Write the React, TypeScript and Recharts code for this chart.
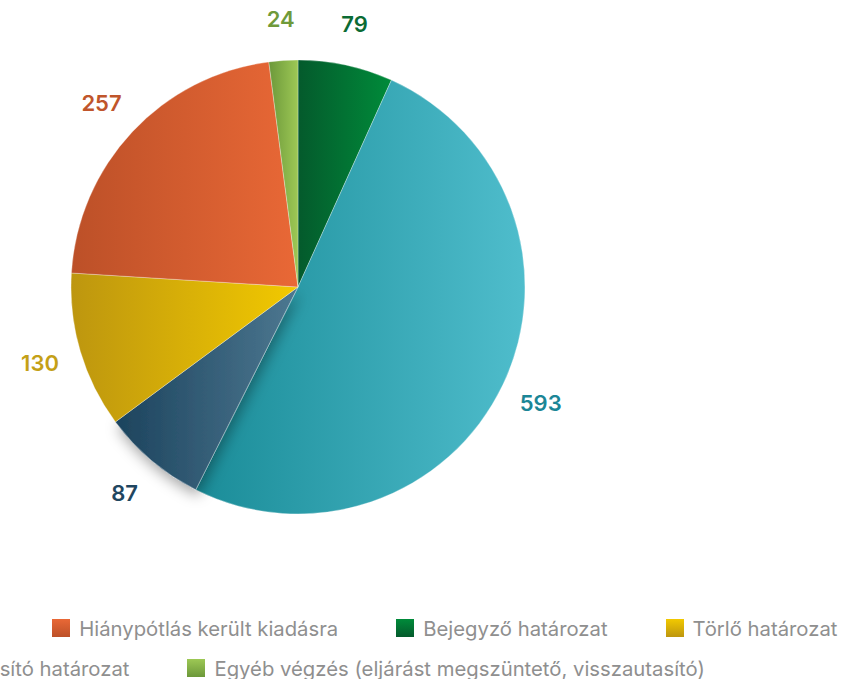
import { PieChart, Pie, Cell, Legend } from 'recharts'

// pie order (clockwise from 12 o'clock)
const categories = [
  'Bejegyző határozat',
  'Változásbejegyző határozat',
  'Kérelmet elutasító határozat',
  'Törlő határozat',
  'Hiánypótlás került kiadásra',
  'Egyéb végzés (eljárást megszüntető, visszautasító)',
]
const values = [79, 593, 87, 130, 257, 24]

// legend order
const legendOrder = [
  'Változásbejegyző határozat',
  'Hiánypótlás került kiadásra',
  'Bejegyző határozat',
  'Törlő határozat',
  'Kérelmet elutasító határozat',
  'Egyéb végzés (eljárást megszüntető, visszautasító)',
]

const gradientStops: [string, string][] = [
  ['#045a2c', '#008b3a'],
  ['#1a8c98', '#4fbdcc'],
  ['#1c435d', '#4d7891'],
  ['#bd960f', '#f2c900'],
  ['#bc5028', '#e96836'],
  ['#6c983a', '#9dc855'],
]
const labelColors = ['#0b6b34', '#1b8696', '#1f4660', '#c4a017', '#c0552b', '#6f9a3a']
const shadowed = 'Kérelmet elutasító határozat'

const data = categories.map((name, i) => ({ name, value: values[i] }))

const RAD = Math.PI / 180

const renderLabel = (props: any) => {
  const { cx, cy, midAngle, outerRadius, index, value } = props
  const r = outerRadius + 42
  const x = cx + r * Math.cos(-midAngle * RAD)
  const y = cy + r * Math.sin(-midAngle * RAD)
  return (
    <text
      x={x}
      y={y}
      fill={labelColors[index]}
      textAnchor="middle"
      dominantBaseline="central"
      fontSize={22}
      fontWeight={600}
      fontFamily="Inter, sans-serif"
    >
      {value}
    </text>
  )
}

const renderLegend = () => (
  <div
    style={{
      display: 'flex',
      flexWrap: 'wrap',
      justifyContent: 'center',
      columnGap: 58,
      rowGap: 18,
      fontFamily: 'Inter, sans-serif',
      fontSize: 20.3,
      color: '#8f8f8f',
    }}
  >
    {legendOrder.map((name) => {
      const i = categories.indexOf(name)
      const [dark, light] = gradientStops[i]
      return (
        <div key={name} style={{ display: 'flex', alignItems: 'center', height: 22, whiteSpace: 'nowrap' }}>
          <span
            style={{
              width: 18,
              height: 18,
              marginRight: 9,
              background: `linear-gradient(to bottom, ${light}, ${dark})`,
              display: 'inline-block',
            }}
          />
          {name}
        </div>
      )
    })}
  </div>
)

export default function App() {
  const W = 1100
  return (
    <div style={{ position: 'absolute', left: 0, top: 0, width: 845, height: 679, overflow: 'hidden' }}>
      <div style={{ position: 'absolute', left: -252, top: 0 }}>
        <PieChart width={W} height={679} margin={{ top: 0, right: 0, bottom: 0, left: 0 }}>
          <defs>
            {gradientStops.map(([dark, light], i) => (
              <linearGradient key={i} id={`slice${i}`} x1="0" y1="0" x2="1" y2="0">
                <stop offset="0%" stopColor={dark} />
                <stop offset="100%" stopColor={light} />
              </linearGradient>
            ))}
            <filter id="sliceShadow" x="-50%" y="-50%" width="200%" height="200%">
              <feDropShadow dx="2" dy="6" stdDeviation="7" floodColor="#000" floodOpacity="0.35" />
            </filter>
          </defs>
          <Pie
            data={data}
            dataKey="value"
            nameKey="name"
            cx={550}
            cy={287}
            outerRadius={227}
            startAngle={90}
            endAngle={-270}
            stroke="rgba(255,255,255,0.5)"
            strokeWidth={0.6}
            label={renderLabel}
            labelLine={false}
            isAnimationActive={false}
          >
            {data.map((d, i) => (
              <Cell
                key={d.name}
                fill={`url(#slice${i})`}
                filter={d.name === shadowed ? 'url(#sliceShadow)' : undefined}
              />
            ))}
          </Pie>
          <Legend
            content={renderLegend}
            wrapperStyle={{ left: 522 - 700, top: 617, width: 1400 }}
          />
        </PieChart>
      </div>
    </div>
  )
}
